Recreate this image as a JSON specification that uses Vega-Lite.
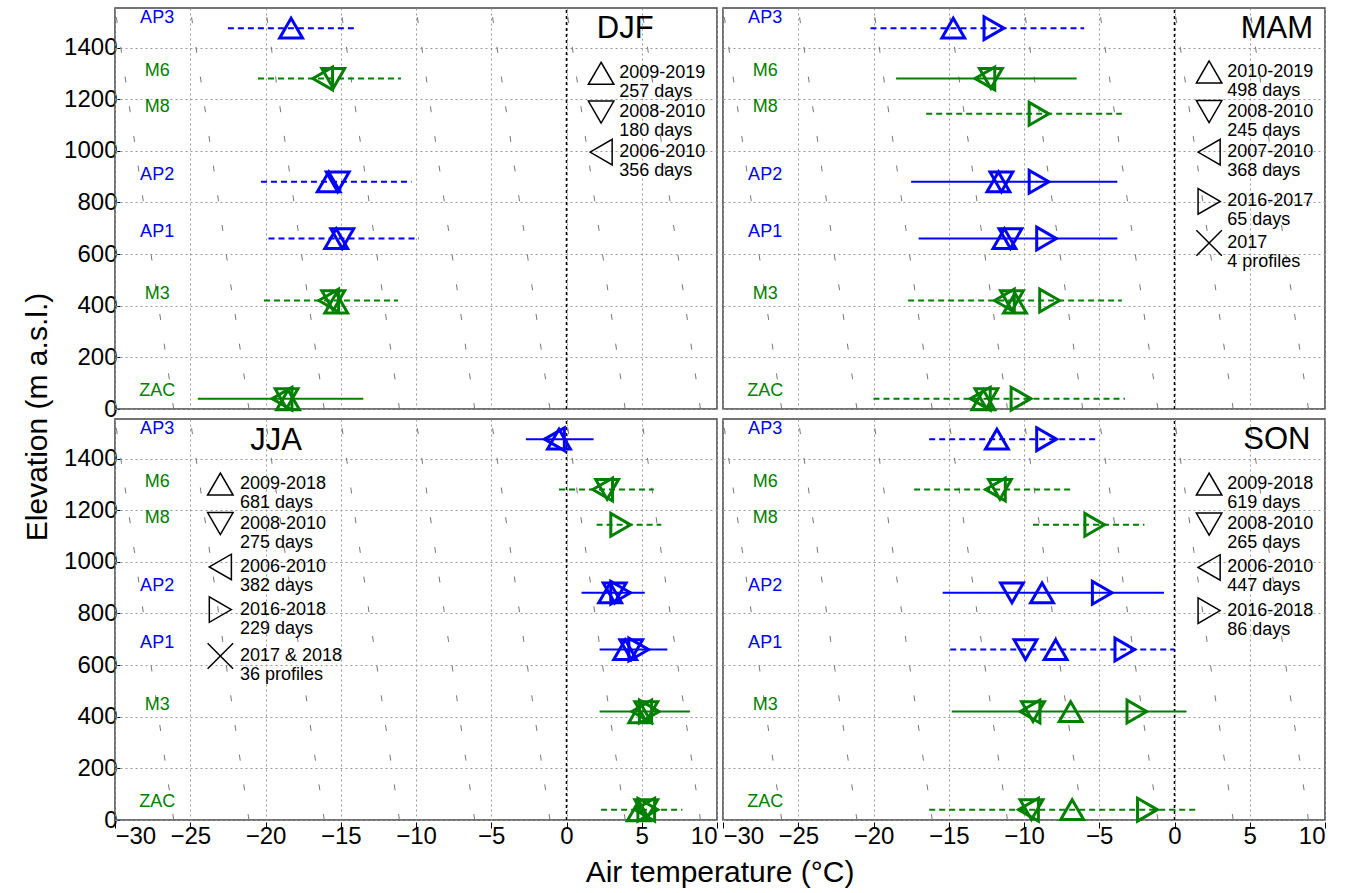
{
"$schema":"https://vega.github.io/schema/vega-lite/v6.json",
"background":"white",
"padding":{"left":22,"top":6,"right":5,"bottom":0},
"spacing":{"row":0,"column":4},
"config":{"font":"Liberation Sans","view":{"stroke":"#444","strokeWidth":1.5}},
"data":{"values":[
{"k":"pt","r":1,"c":1,"g":"B","s":"up","x":-18.3,"z":1475},
{"k":"pt","r":1,"c":1,"g":"G","s":"down","x":-15.5,"z":1280},
{"k":"pt","r":1,"c":1,"g":"G","s":"left","x":-16.2,"z":1280},
{"k":"pt","r":1,"c":1,"g":"B","s":"up","x":-15.8,"z":880},
{"k":"pt","r":1,"c":1,"g":"B","s":"down","x":-15.2,"z":880},
{"k":"pt","r":1,"c":1,"g":"B","s":"up","x":-15.3,"z":660},
{"k":"pt","r":1,"c":1,"g":"B","s":"down","x":-14.9,"z":660},
{"k":"pt","r":1,"c":1,"g":"G","s":"left","x":-15.8,"z":420},
{"k":"pt","r":1,"c":1,"g":"G","s":"down","x":-15.5,"z":420},
{"k":"pt","r":1,"c":1,"g":"G","s":"up","x":-15.3,"z":410},
{"k":"pt","r":1,"c":1,"g":"G","s":"down","x":-18.6,"z":40},
{"k":"pt","r":1,"c":1,"g":"G","s":"left","x":-18.9,"z":40},
{"k":"pt","r":1,"c":1,"g":"G","s":"up","x":-18.5,"z":35},
{"k":"pt","r":1,"c":2,"g":"B","s":"up","x":-14.7,"z":1475},
{"k":"pt","r":1,"c":2,"g":"B","s":"right","x":-12.0,"z":1475},
{"k":"pt","r":1,"c":2,"g":"G","s":"down","x":-12.2,"z":1280},
{"k":"pt","r":1,"c":2,"g":"G","s":"left","x":-12.6,"z":1280},
{"k":"pt","r":1,"c":2,"g":"G","s":"right","x":-9.0,"z":1143},
{"k":"pt","r":1,"c":2,"g":"B","s":"up","x":-11.7,"z":880},
{"k":"pt","r":1,"c":2,"g":"B","s":"down","x":-11.5,"z":880},
{"k":"pt","r":1,"c":2,"g":"B","s":"right","x":-9.0,"z":880},
{"k":"pt","r":1,"c":2,"g":"B","s":"up","x":-11.3,"z":660},
{"k":"pt","r":1,"c":2,"g":"B","s":"down","x":-10.9,"z":660},
{"k":"pt","r":1,"c":2,"g":"B","s":"right","x":-8.5,"z":660},
{"k":"pt","r":1,"c":2,"g":"G","s":"left","x":-11.3,"z":420},
{"k":"pt","r":1,"c":2,"g":"G","s":"down","x":-10.8,"z":420},
{"k":"pt","r":1,"c":2,"g":"G","s":"up","x":-10.6,"z":410},
{"k":"pt","r":1,"c":2,"g":"G","s":"right","x":-8.3,"z":420},
{"k":"pt","r":1,"c":2,"g":"G","s":"left","x":-12.9,"z":40},
{"k":"pt","r":1,"c":2,"g":"G","s":"down","x":-12.5,"z":40},
{"k":"pt","r":1,"c":2,"g":"G","s":"up","x":-12.7,"z":35},
{"k":"pt","r":1,"c":2,"g":"G","s":"right","x":-10.2,"z":40},
{"k":"pt","r":2,"c":1,"g":"B","s":"up","x":-0.5,"z":1475},
{"k":"pt","r":2,"c":1,"g":"B","s":"left","x":-0.8,"z":1475},
{"k":"pt","r":2,"c":1,"g":"G","s":"down","x":2.7,"z":1280},
{"k":"pt","r":2,"c":1,"g":"G","s":"left","x":2.4,"z":1280},
{"k":"pt","r":2,"c":1,"g":"G","s":"right","x":3.6,"z":1143},
{"k":"pt","r":2,"c":1,"g":"B","s":"up","x":2.9,"z":880},
{"k":"pt","r":2,"c":1,"g":"B","s":"down","x":3.2,"z":880},
{"k":"pt","r":2,"c":1,"g":"B","s":"right","x":3.6,"z":880},
{"k":"pt","r":2,"c":1,"g":"B","s":"up","x":3.9,"z":660},
{"k":"pt","r":2,"c":1,"g":"B","s":"down","x":4.3,"z":660},
{"k":"pt","r":2,"c":1,"g":"B","s":"right","x":4.8,"z":660},
{"k":"pt","r":2,"c":1,"g":"G","s":"up","x":4.9,"z":415},
{"k":"pt","r":2,"c":1,"g":"G","s":"down","x":5.3,"z":420},
{"k":"pt","r":2,"c":1,"g":"G","s":"left","x":5.0,"z":420},
{"k":"pt","r":2,"c":1,"g":"G","s":"right","x":5.5,"z":420},
{"k":"pt","r":2,"c":1,"g":"G","s":"up","x":4.8,"z":35},
{"k":"pt","r":2,"c":1,"g":"G","s":"down","x":5.3,"z":40},
{"k":"pt","r":2,"c":1,"g":"G","s":"left","x":5.2,"z":40},
{"k":"pt","r":2,"c":1,"g":"G","s":"right","x":5.4,"z":40},
{"k":"pt","r":2,"c":2,"g":"B","s":"up","x":-11.8,"z":1475},
{"k":"pt","r":2,"c":2,"g":"B","s":"right","x":-8.5,"z":1475},
{"k":"pt","r":2,"c":2,"g":"G","s":"down","x":-11.6,"z":1280},
{"k":"pt","r":2,"c":2,"g":"G","s":"left","x":-11.9,"z":1280},
{"k":"pt","r":2,"c":2,"g":"G","s":"right","x":-5.3,"z":1143},
{"k":"pt","r":2,"c":2,"g":"B","s":"down","x":-10.8,"z":880},
{"k":"pt","r":2,"c":2,"g":"B","s":"up","x":-8.8,"z":880},
{"k":"pt","r":2,"c":2,"g":"B","s":"right","x":-4.8,"z":880},
{"k":"pt","r":2,"c":2,"g":"B","s":"down","x":-9.9,"z":660},
{"k":"pt","r":2,"c":2,"g":"B","s":"up","x":-7.9,"z":660},
{"k":"pt","r":2,"c":2,"g":"B","s":"right","x":-3.3,"z":660},
{"k":"pt","r":2,"c":2,"g":"G","s":"down","x":-9.4,"z":420},
{"k":"pt","r":2,"c":2,"g":"G","s":"left","x":-9.6,"z":420},
{"k":"pt","r":2,"c":2,"g":"G","s":"up","x":-6.9,"z":420},
{"k":"pt","r":2,"c":2,"g":"G","s":"right","x":-2.5,"z":420},
{"k":"pt","r":2,"c":2,"g":"G","s":"down","x":-9.5,"z":40},
{"k":"pt","r":2,"c":2,"g":"G","s":"left","x":-9.7,"z":40},
{"k":"pt","r":2,"c":2,"g":"G","s":"up","x":-6.8,"z":40},
{"k":"pt","r":2,"c":2,"g":"G","s":"right","x":-1.8,"z":40},
{"k":"ln","r":1,"c":1,"g":"B","d":"dashed","x":-22.5,"x2":-14,"z":1475},
{"k":"ln","r":1,"c":1,"g":"G","d":"dashed","x":-20.5,"x2":-11,"z":1280},
{"k":"ln","r":1,"c":1,"g":"B","d":"dashed","x":-20.3,"x2":-10.3,"z":880},
{"k":"ln","r":1,"c":1,"g":"B","d":"dashed","x":-19.8,"x2":-9.8,"z":660},
{"k":"ln","r":1,"c":1,"g":"G","d":"dashed","x":-20.1,"x2":-11.2,"z":420},
{"k":"ln","r":1,"c":1,"g":"G","d":"solid","x":-24.5,"x2":-13.5,"z":40},
{"k":"ln","r":1,"c":2,"g":"B","d":"dashed","x":-20.2,"x2":-6,"z":1475},
{"k":"ln","r":1,"c":2,"g":"G","d":"solid","x":-18.5,"x2":-6.5,"z":1280},
{"k":"ln","r":1,"c":2,"g":"G","d":"dashed","x":-16.5,"x2":-3.5,"z":1143},
{"k":"ln","r":1,"c":2,"g":"B","d":"solid","x":-17.5,"x2":-3.8,"z":880},
{"k":"ln","r":1,"c":2,"g":"B","d":"solid","x":-17,"x2":-3.8,"z":660},
{"k":"ln","r":1,"c":2,"g":"G","d":"dashed","x":-17.7,"x2":-3.5,"z":420},
{"k":"ln","r":1,"c":2,"g":"G","d":"dashed","x":-20,"x2":-3.3,"z":40},
{"k":"ln","r":2,"c":1,"g":"B","d":"solid","x":-2.7,"x2":1.8,"z":1475},
{"k":"ln","r":2,"c":1,"g":"G","d":"dashed","x":-0.5,"x2":5.8,"z":1280},
{"k":"ln","r":2,"c":1,"g":"G","d":"dashed","x":2,"x2":6.3,"z":1143},
{"k":"ln","r":2,"c":1,"g":"B","d":"solid","x":1,"x2":5.2,"z":880},
{"k":"ln","r":2,"c":1,"g":"B","d":"solid","x":2.2,"x2":6.7,"z":660},
{"k":"ln","r":2,"c":1,"g":"G","d":"solid","x":2.2,"x2":8.2,"z":420},
{"k":"ln","r":2,"c":1,"g":"G","d":"dashed","x":2.3,"x2":7.7,"z":40},
{"k":"ln","r":2,"c":2,"g":"B","d":"dashed","x":-16.3,"x2":-5,"z":1475},
{"k":"ln","r":2,"c":2,"g":"G","d":"dashed","x":-17.3,"x2":-6.7,"z":1280},
{"k":"ln","r":2,"c":2,"g":"G","d":"dashed","x":-9.4,"x2":-2,"z":1143},
{"k":"ln","r":2,"c":2,"g":"B","d":"solid","x":-15.4,"x2":-0.7,"z":880},
{"k":"ln","r":2,"c":2,"g":"B","d":"dashed","x":-14.9,"x2":0,"z":660},
{"k":"ln","r":2,"c":2,"g":"G","d":"solid","x":-14.8,"x2":0.8,"z":420},
{"k":"ln","r":2,"c":2,"g":"G","d":"dashed","x":-16.3,"x2":1.5,"z":40},
{"k":"sn","r":1,"c":1,"t":"DJF","x":3.9,"z":1470},
{"k":"sn","r":1,"c":2,"t":"MAM","x":6.8,"z":1470},
{"k":"sn","r":2,"c":1,"t":"JJA","x":-19.3,"z":1466},
{"k":"sn","r":2,"c":2,"t":"SON","x":6.8,"z":1470},
{"k":"zr","r":1,"c":1,"x":0,"z":0,"z2":1553},{"k":"zr","r":1,"c":2,"x":0,"z":0,"z2":1553},{"k":"zr","r":2,"c":1,"x":0,"z":0,"z2":1553},{"k":"zr","r":2,"c":2,"x":0,"z":0,"z2":1553},
{"k":"lm","r":1,"c":1,"s":"up","x":2.3,"z":1300},
{"k":"lm","r":1,"c":1,"s":"down","x":2.3,"z":1150},
{"k":"lm","r":1,"c":1,"s":"left","x":2.3,"z":995},
{"k":"lm","r":1,"c":2,"s":"up","x":2.3,"z":1305},
{"k":"lm","r":1,"c":2,"s":"down","x":2.3,"z":1152},
{"k":"lm","r":1,"c":2,"s":"left","x":2.3,"z":995},
{"k":"lm","r":1,"c":2,"s":"right","x":2.3,"z":804},
{"k":"lm","r":1,"c":2,"s":"x","x":2.3,"z":643},
{"k":"lm","r":2,"c":1,"s":"up","x":-23,"z":1301},
{"k":"lm","r":2,"c":1,"s":"down","x":-23,"z":1148},
{"k":"lm","r":2,"c":1,"s":"left","x":-23,"z":980},
{"k":"lm","r":2,"c":1,"s":"right","x":-23,"z":815},
{"k":"lm","r":2,"c":1,"s":"x","x":-23,"z":635},
{"k":"lm","r":2,"c":2,"s":"up","x":2.3,"z":1301},
{"k":"lm","r":2,"c":2,"s":"down","x":2.3,"z":1146},
{"k":"lm","r":2,"c":2,"s":"left","x":2.3,"z":978},
{"k":"lm","r":2,"c":2,"s":"right","x":2.3,"z":811},
{"k":"lt","r":1,"c":1,"t":["2009-2019","257 days"],"x":3.5,"z":1300},
{"k":"lt","r":1,"c":1,"t":["2008-2010","180 days"],"x":3.5,"z":1150},
{"k":"lt","r":1,"c":1,"t":["2006-2010","356 days"],"x":3.5,"z":995},
{"k":"lt","r":1,"c":2,"t":["2010-2019","498 days"],"x":3.5,"z":1305},
{"k":"lt","r":1,"c":2,"t":["2008-2010","245 days"],"x":3.5,"z":1152},
{"k":"lt","r":1,"c":2,"t":["2007-2010","368 days"],"x":3.5,"z":995},
{"k":"lt","r":1,"c":2,"t":["2016-2017","65 days"],"x":3.5,"z":804},
{"k":"lt","r":1,"c":2,"t":["2017","4 profiles"],"x":3.5,"z":643},
{"k":"lt","r":2,"c":1,"t":["2009-2018","681 days"],"x":-21.7,"z":1301},
{"k":"lt","r":2,"c":1,"t":["2008-2010","275 days"],"x":-21.7,"z":1148},
{"k":"lt","r":2,"c":1,"t":["2006-2010","382 days"],"x":-21.7,"z":980},
{"k":"lt","r":2,"c":1,"t":["2016-2018","229 days"],"x":-21.7,"z":815},
{"k":"lt","r":2,"c":1,"t":["2017 & 2018","36 profiles"],"x":-21.7,"z":635},
{"k":"lt","r":2,"c":2,"t":["2009-2018","619 days"],"x":3.5,"z":1301},
{"k":"lt","r":2,"c":2,"t":["2008-2010","265 days"],"x":3.5,"z":1146},
{"k":"lt","r":2,"c":2,"t":["2006-2010","447 days"],"x":3.5,"z":978},
{"k":"lt","r":2,"c":2,"t":["2016-2018","86 days"],"x":3.5,"z":811},
{"k":"sl","r":1,"c":1,"g":"B","t":"AP3","x":-27.2,"z":1515},{"k":"sl","r":1,"c":1,"g":"G","t":"M6","x":-27.2,"z":1310},{"k":"sl","r":1,"c":1,"g":"G","t":"M8","x":-27.2,"z":1168},{"k":"sl","r":1,"c":1,"g":"B","t":"AP2","x":-27.2,"z":905},{"k":"sl","r":1,"c":1,"g":"B","t":"AP1","x":-27.2,"z":685},{"k":"sl","r":1,"c":1,"g":"G","t":"M3","x":-27.2,"z":445},{"k":"sl","r":1,"c":1,"g":"G","t":"ZAC","x":-27.2,"z":70},
{"k":"sl","r":1,"c":2,"g":"B","t":"AP3","x":-27.2,"z":1515},{"k":"sl","r":1,"c":2,"g":"G","t":"M6","x":-27.2,"z":1310},{"k":"sl","r":1,"c":2,"g":"G","t":"M8","x":-27.2,"z":1168},{"k":"sl","r":1,"c":2,"g":"B","t":"AP2","x":-27.2,"z":905},{"k":"sl","r":1,"c":2,"g":"B","t":"AP1","x":-27.2,"z":685},{"k":"sl","r":1,"c":2,"g":"G","t":"M3","x":-27.2,"z":445},{"k":"sl","r":1,"c":2,"g":"G","t":"ZAC","x":-27.2,"z":70},
{"k":"sl","r":2,"c":1,"g":"B","t":"AP3","x":-27.2,"z":1515},{"k":"sl","r":2,"c":1,"g":"G","t":"M6","x":-27.2,"z":1310},{"k":"sl","r":2,"c":1,"g":"G","t":"M8","x":-27.2,"z":1168},{"k":"sl","r":2,"c":1,"g":"B","t":"AP2","x":-27.2,"z":905},{"k":"sl","r":2,"c":1,"g":"B","t":"AP1","x":-27.2,"z":685},{"k":"sl","r":2,"c":1,"g":"G","t":"M3","x":-27.2,"z":445},{"k":"sl","r":2,"c":1,"g":"G","t":"ZAC","x":-27.2,"z":70},
{"k":"sl","r":2,"c":2,"g":"B","t":"AP3","x":-27.2,"z":1515},{"k":"sl","r":2,"c":2,"g":"G","t":"M6","x":-27.2,"z":1310},{"k":"sl","r":2,"c":2,"g":"G","t":"M8","x":-27.2,"z":1168},{"k":"sl","r":2,"c":2,"g":"B","t":"AP2","x":-27.2,"z":905},{"k":"sl","r":2,"c":2,"g":"B","t":"AP1","x":-27.2,"z":685},{"k":"sl","r":2,"c":2,"g":"G","t":"M3","x":-27.2,"z":445},{"k":"sl","r":2,"c":2,"g":"G","t":"ZAC","x":-27.2,"z":70},
{"k":"la","r":1,"c":1,"id":1,"x":-30,"z":1553},{"k":"la","r":1,"c":1,"id":1,"x":-26.1,"z":0},
{"k":"la","r":1,"c":1,"id":2,"x":-25,"z":1553},{"k":"la","r":1,"c":1,"id":2,"x":-21.1,"z":0},
{"k":"la","r":1,"c":1,"id":3,"x":-20,"z":1553},{"k":"la","r":1,"c":1,"id":3,"x":-16.1,"z":0},
{"k":"la","r":1,"c":1,"id":4,"x":-15,"z":1553},{"k":"la","r":1,"c":1,"id":4,"x":-11.1,"z":0},
{"k":"la","r":1,"c":1,"id":5,"x":-10,"z":1553},{"k":"la","r":1,"c":1,"id":5,"x":-6.1,"z":0},
{"k":"la","r":1,"c":1,"id":6,"x":-5,"z":1553},{"k":"la","r":1,"c":1,"id":6,"x":-1.1,"z":0},
{"k":"la","r":1,"c":1,"id":7,"x":0,"z":1553},{"k":"la","r":1,"c":1,"id":7,"x":3.9,"z":0},
{"k":"la","r":1,"c":1,"id":8,"x":5,"z":1553},{"k":"la","r":1,"c":1,"id":8,"x":8.9,"z":0},
{"k":"la","r":1,"c":2,"id":1,"x":-30,"z":1553},{"k":"la","r":1,"c":2,"id":1,"x":-26.1,"z":0},
{"k":"la","r":1,"c":2,"id":2,"x":-25,"z":1553},{"k":"la","r":1,"c":2,"id":2,"x":-21.1,"z":0},
{"k":"la","r":1,"c":2,"id":3,"x":-20,"z":1553},{"k":"la","r":1,"c":2,"id":3,"x":-16.1,"z":0},
{"k":"la","r":1,"c":2,"id":4,"x":-15,"z":1553},{"k":"la","r":1,"c":2,"id":4,"x":-11.1,"z":0},
{"k":"la","r":1,"c":2,"id":5,"x":-10,"z":1553},{"k":"la","r":1,"c":2,"id":5,"x":-6.1,"z":0},
{"k":"la","r":1,"c":2,"id":6,"x":-5,"z":1553},{"k":"la","r":1,"c":2,"id":6,"x":-1.1,"z":0},
{"k":"la","r":1,"c":2,"id":7,"x":0,"z":1553},{"k":"la","r":1,"c":2,"id":7,"x":3.9,"z":0},
{"k":"la","r":1,"c":2,"id":8,"x":5,"z":1553},{"k":"la","r":1,"c":2,"id":8,"x":8.9,"z":0},
{"k":"la","r":2,"c":1,"id":1,"x":-30,"z":1553},{"k":"la","r":2,"c":1,"id":1,"x":-26.1,"z":0},
{"k":"la","r":2,"c":1,"id":2,"x":-25,"z":1553},{"k":"la","r":2,"c":1,"id":2,"x":-21.1,"z":0},
{"k":"la","r":2,"c":1,"id":3,"x":-20,"z":1553},{"k":"la","r":2,"c":1,"id":3,"x":-16.1,"z":0},
{"k":"la","r":2,"c":1,"id":4,"x":-15,"z":1553},{"k":"la","r":2,"c":1,"id":4,"x":-11.1,"z":0},
{"k":"la","r":2,"c":1,"id":5,"x":-10,"z":1553},{"k":"la","r":2,"c":1,"id":5,"x":-6.1,"z":0},
{"k":"la","r":2,"c":1,"id":6,"x":-5,"z":1553},{"k":"la","r":2,"c":1,"id":6,"x":-1.1,"z":0},
{"k":"la","r":2,"c":1,"id":7,"x":0,"z":1553},{"k":"la","r":2,"c":1,"id":7,"x":3.9,"z":0},
{"k":"la","r":2,"c":1,"id":8,"x":5,"z":1553},{"k":"la","r":2,"c":1,"id":8,"x":8.9,"z":0},
{"k":"la","r":2,"c":2,"id":1,"x":-30,"z":1553},{"k":"la","r":2,"c":2,"id":1,"x":-26.1,"z":0},
{"k":"la","r":2,"c":2,"id":2,"x":-25,"z":1553},{"k":"la","r":2,"c":2,"id":2,"x":-21.1,"z":0},
{"k":"la","r":2,"c":2,"id":3,"x":-20,"z":1553},{"k":"la","r":2,"c":2,"id":3,"x":-16.1,"z":0},
{"k":"la","r":2,"c":2,"id":4,"x":-15,"z":1553},{"k":"la","r":2,"c":2,"id":4,"x":-11.1,"z":0},
{"k":"la","r":2,"c":2,"id":5,"x":-10,"z":1553},{"k":"la","r":2,"c":2,"id":5,"x":-6.1,"z":0},
{"k":"la","r":2,"c":2,"id":6,"x":-5,"z":1553},{"k":"la","r":2,"c":2,"id":6,"x":-1.1,"z":0},
{"k":"la","r":2,"c":2,"id":7,"x":0,"z":1553},{"k":"la","r":2,"c":2,"id":7,"x":3.9,"z":0},
{"k":"la","r":2,"c":2,"id":8,"x":5,"z":1553},{"k":"la","r":2,"c":2,"id":8,"x":8.9,"z":0}
]},
"facet":{
 "row":{"field":"r","type":"ordinal","header":{"title":"Elevation (m a.s.l.)","labels":false,"titleFontSize":30,"titleFontWeight":"normal","titleOrient":"left","titlePadding":0}},
 "column":{"field":"c","type":"ordinal","header":{"title":"Air temperature (°C)","labels":false,"titleFontSize":30,"titleFontWeight":"normal","titleOrient":"bottom","titlePadding":0}}
},
"spec":{
 "width":602,"height":401,
 "encoding":{
  "x":{"field":"x","type":"quantitative","scale":{"domain":[-30,10],"nice":false},"axis":{"title":null,"values":[-30,-25,-20,-15,-10,-5,0,5,10],"labelFontSize":24,"labelColor":"#000","grid":true,"gridColor":"#999","gridDash":[2,3],"tickSize":-6,"tickColor":"#000","domain":false,"labelPadding":2}},
  "y":{"field":"z","type":"quantitative","scale":{"domain":[0,1553],"nice":false},"axis":{"title":null,"format":"d","values":[0,200,400,600,800,1000,1200,1400],"labelFontSize":24,"labelColor":"#000","grid":true,"gridColor":"#999","gridDash":[2,3],"tickSize":-6,"tickColor":"#000","domain":false,"labelPadding":3}}
 },
 "layer":[
  {"transform":[{"filter":"datum.k=='la'"}],"mark":{"type":"line","color":"#777","strokeWidth":1,"strokeDash":[6,24],"clip":true},"encoding":{"detail":{"field":"id"},"order":{"field":"z"}}},
  {"transform":[{"filter":"datum.k=='zr'"}],"mark":{"type":"rule","color":"#000","strokeWidth":1.5,"strokeDash":[3,3]},"encoding":{"y2":{"field":"z2"}}},
  {"transform":[{"filter":"datum.k=='ln'"}],"mark":{"type":"rule","strokeWidth":2},"encoding":{"x2":{"field":"x2"},"color":{"field":"g","type":"nominal","scale":{"domain":["B","G","K"],"range":["#0000ff","#008000","#000000"]},"legend":null},"strokeDash":{"field":"d","type":"nominal","scale":{"domain":["solid","dashed"],"range":[[1,0],[6,4]]},"legend":null}}},
  {"transform":[{"filter":"datum.k=='pt'"}],"mark":{"type":"point","filled":false,"strokeWidth":3,"size":520,"opacity":1},"encoding":{"color":{"field":"g","type":"nominal","scale":{"domain":["B","G","K"],"range":["#0000ff","#008000","#000000"]},"legend":null},"shape":{"field":"s","type":"nominal","scale":{"domain":["up","down","left","right","x"],"range":["triangle-up","triangle-down","triangle-left","triangle-right","M-1,-1L1,1M-1,1L1,-1"]},"legend":null}}},
  {"transform":[{"filter":"datum.k=='lm'"}],"mark":{"type":"point","filled":false,"strokeWidth":1.5,"size":650,"color":"#000","opacity":1},"encoding":{"shape":{"field":"s","type":"nominal","scale":{"domain":["up","down","left","right","x"],"range":["triangle-up","triangle-down","triangle-left","triangle-right","M-1,-1L1,1M-1,1L1,-1"]},"legend":null}}},
  {"transform":[{"filter":"datum.k=='lt'"}],"mark":{"type":"text","align":"left","baseline":"middle","fontSize":18,"lineHeight":19,"color":"#000"},"encoding":{"text":{"field":"t"}}},
  {"transform":[{"filter":"datum.k=='sn'"}],"mark":{"type":"text","align":"center","baseline":"middle","fontSize":31,"color":"#000"},"encoding":{"text":{"field":"t"}}},
  {"transform":[{"filter":"datum.k=='sl'"}],"mark":{"type":"text","align":"center","baseline":"middle","fontSize":18},"encoding":{"text":{"field":"t"},"color":{"field":"g","type":"nominal","scale":{"domain":["B","G","K"],"range":["#0000ff","#008000","#000000"]},"legend":null}}}
 ]
}
}
